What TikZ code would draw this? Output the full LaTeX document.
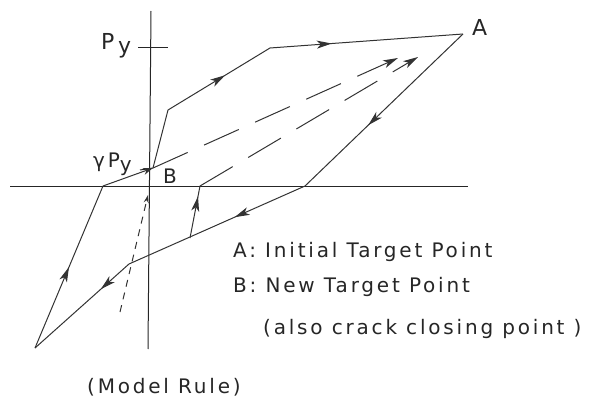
\documentclass[tikz,border=0pt]{standalone}
\usepackage{fontspec}
\setmainfont[LetterSpace=14]{DejaVu Sans}
\usepackage{tikz}
\usetikzlibrary{arrows.meta,decorations.markings}

\begin{document}
\begin{tikzpicture}[x=1pt, y=-1pt,
        axis/.style={draw=black!85, line width=1pt},
        curve/.style={draw=black!80, line width=1pt},
        unload/.style={draw=black!80, line width=1pt, dash pattern=on 38pt off 18pt},
        closing/.style={draw=black!80, line width=1pt, dash pattern=on 7pt off 6pt},
        tip/.style={-{Stealth[length=15pt, width=8pt, inset=4pt]}},
        midarrow/.style={postaction={decorate}, decoration={markings,
            mark=at position #1 with {\arrow{Stealth[length=15pt, width=8pt, inset=4pt]}}}},
        label/.style={font=\fontsize{20}{24}\selectfont, inner sep=0pt, text=black!85},
        biglabel/.style={font=\fontsize{22}{26}\selectfont, inner sep=0pt, text=black!85}
    ]
    \useasboundingbox (0,0) rectangle (595,404);

    % Points
    \coordinate (O) at (149,186);
    \coordinate (B) at (153,168);
    \coordinate (K1) at (168,110);
    \coordinate (K2) at (270,48);
    \coordinate (A) at (463,34);
    \coordinate (C) at (305,186);
    \coordinate (D) at (190,238);
    \coordinate (E) at (129,264);
    \coordinate (F) at (35,348);
    \coordinate (G) at (103,186);
    \coordinate (H) at (200,186);
    \coordinate (Aup) at (398,58);
    \coordinate (Alow) at (418,57);
    \coordinate (Q) at (120,312);
    \coordinate (Qtop) at (148,195);

    % Axes
    \coordinate (xl) at (10,186);
    \coordinate (xr) at (468,186);
    \coordinate (yt) at (151,11);
    \coordinate (yb) at (148,349);
    \draw[axis] (xl) -- (xr);
    \draw[axis] (yt) -- (yb);
    \coordinate (py1) at (138,48);
    \coordinate (py2) at (168,48);
    \draw[axis] (py1) -- (py2);
    \coordinate (gp1) at (140,170);
    \draw[axis] (gp1) -- (B);

    % Loading path
    \draw[curve] (B) -- (K1);
    \draw[curve, midarrow=0.56] (K1) -- (K2);
    \draw[curve, midarrow=0.32] (K2) -- (A);
    \draw[curve, midarrow=0.6] (A) -- (C);
    \draw[curve, midarrow=0.4] (C) -- (E);
    \draw[curve, midarrow=0.3] (E) -- (F);
    \draw[curve, midarrow=0.5] (F) -- (G);
    \draw[curve, -{Stealth[length=10pt, width=7pt]}] (G) -- (B);
    \draw[curve, midarrow=0.8] (D) -- (H);

    % Reloading towards A
    \draw[unload, tip] (B) -- (Aup);
    \draw[unload, tip] (H) -- (Alow);
    \draw[closing, -{Stealth[length=8pt, width=5pt]}] (Q) -- (Qtop);

    % Labels
    \node[biglabel, anchor=base west] (lpy) at (101,50) {P\,\raisebox{-4pt}{y}};
    \node[label, anchor=base west] (lgpy) at (93,167) {γP\raisebox{-4pt}{y}};
    \node[label, anchor=base west] (lb) at (163,183) {B};
    \node[biglabel, anchor=base west] (la) at (472,36) {A};

    % Legend
    \node[label, anchor=base west] (leg1) at (233,257) {A: Initial Target Point};
    \node[label, anchor=base west] (leg2) at (233,292) {B: New Target Point};
    \node[label, anchor=base west] (leg3) at (263,334) {(also crack closing point )};
    \node[label, anchor=base west] (cap) at (87,393) {(Model Rule)};
\end{tikzpicture}
\end{document}
